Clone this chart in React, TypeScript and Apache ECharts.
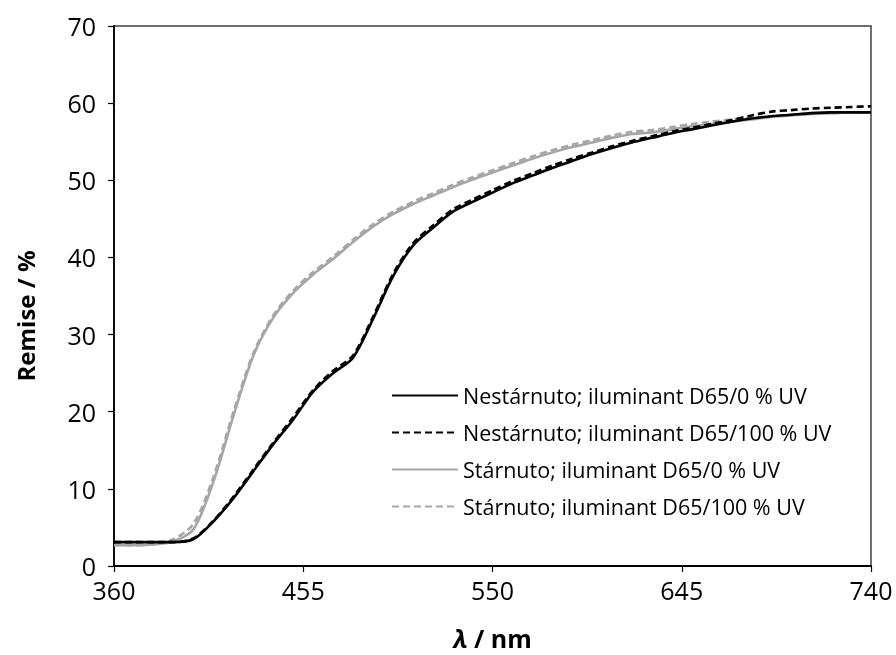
import React, { useEffect, useRef } from "react";
import * as echarts from "echarts";

const wavelengths = [360, 370, 380, 390, 400, 410, 420, 430, 440, 450, 460, 470, 480, 490, 500, 510, 520, 530, 540, 550, 560, 570, 580, 590, 600, 610, 620, 630, 640, 650, 660, 670, 680, 690, 700, 710, 720, 730, 740];

const nestarnuto0 = [3.1, 3.1, 3.1, 3.1, 3.5, 5.8, 8.8, 12.3, 15.8, 19.0, 22.6, 25.0, 27.0, 32.0, 37.5, 41.5, 43.8, 45.9, 47.2, 48.4, 49.6, 50.6, 51.6, 52.5, 53.4, 54.2, 54.9, 55.5, 56.1, 56.6, 57.1, 57.6, 58.0, 58.3, 58.5, 58.7, 58.8, 58.8, 58.8];
const nestarnuto100 = [3.1, 3.1, 3.1, 3.1, 3.6, 5.9, 9.0, 12.5, 16.0, 19.3, 22.8, 25.3, 27.3, 32.3, 37.8, 41.8, 44.1, 46.2, 47.5, 48.7, 49.9, 50.9, 51.9, 52.8, 53.6, 54.4, 55.1, 55.7, 56.3, 56.8, 57.3, 57.8, 58.4, 58.9, 59.1, 59.3, 59.4, 59.5, 59.6];
const starnuto0 = [2.7, 2.7, 2.8, 3.2, 4.8, 11.0, 19.5, 27.3, 32.2, 35.4, 37.8, 39.8, 42.0, 44.0, 45.6, 46.9, 48.0, 49.1, 50.1, 51.0, 51.9, 52.8, 53.6, 54.3, 54.9, 55.5, 56.0, 56.2, 56.6, 57.0, 57.3, 57.6, 57.9, 58.2, 58.4, 58.6, 58.7, 58.8, 58.8];
const starnuto100 = [2.7, 2.7, 2.8, 3.5, 5.5, 11.6, 20.0, 27.6, 32.5, 35.7, 38.1, 40.1, 42.3, 44.3, 45.9, 47.2, 48.3, 49.4, 50.4, 51.3, 52.2, 53.1, 53.9, 54.6, 55.2, 55.8, 56.3, 56.5, 56.9, 57.3, 57.6, 57.9, 58.1, 58.3, 58.5, 58.6, 58.7, 58.8, 58.8];

const seriesNames = [
  "Nestárnuto; iluminant D65/0 % UV",
  "Nestárnuto; iluminant D65/100 % UV",
  "Stárnuto; iluminant D65/0 % UV",
  "Stárnuto; iluminant D65/100 % UV",
];

const FONT = "'Open Sans', sans-serif";

export default function App() {
  const ref = useRef<HTMLDivElement>(null);
  useEffect(() => {
    if (!ref.current) return;
    const chart = echarts.init(ref.current, undefined, { renderer: "svg" });
    const pair = (vals: number[]) => wavelengths.map((w, i) => [w, vals[i]]);
    const mk = (name: string, vals: number[], color: string, dashed: boolean, z: number) => ({
      name,
      type: "line",
      data: pair(vals),
      symbol: "none",
      smooth: 0.3,
      z,
      lineStyle: { color, width: 2.6, type: dashed ? [7, 4] : "solid" },
      itemStyle: { color },
    });
    chart.setOption({
      animation: false,
      textStyle: { fontFamily: FONT },
      grid: {
        left: 114,
        right: 25,
        top: 26,
        bottom: 89,
        show: true,
        borderColor: "#404040",
        borderWidth: 1.5,
      },
      legend: {
        orient: "vertical",
        left: 386,
        top: 378,
        itemWidth: 66,
        itemHeight: 14,
        itemGap: 12,
        itemStyle: { opacity: 0 },
        data: seriesNames,
        textStyle: { fontFamily: FONT, fontSize: 21.5, color: "#000", lineHeight: 25 },
      },
      xAxis: {
        type: "value",
        min: 360,
        max: 740,
        interval: 95,
        splitLine: { show: false },
        axisLine: { lineStyle: { color: "#000", width: 1.8 } },
        axisTick: { inside: false, length: 6, lineStyle: { color: "#000", width: 1.2 } },
        axisLabel: { fontFamily: FONT, fontSize: 25, color: "#000", margin: 11 },
        name: "{i|λ} / nm",
        nameLocation: "middle",
        nameGap: 59,
        nameTextStyle: {
          fontFamily: FONT,
          fontSize: 25,
          fontWeight: "bold",
          color: "#000",
          rich: { i: { fontFamily: FONT, fontSize: 25, fontWeight: "bold", fontStyle: "italic", color: "#000" } },
        },
      },
      yAxis: {
        type: "value",
        min: 0,
        max: 70,
        interval: 10,
        splitLine: { show: false },
        axisLine: { show: true, lineStyle: { color: "#000", width: 1.8 } },
        axisTick: { show: true, inside: false, length: 6, lineStyle: { color: "#000", width: 1.2 } },
        axisLabel: { fontFamily: FONT, fontSize: 25, color: "#000", margin: 18 },
      },
      graphic: [
        {
          type: "text",
          x: 25,
          y: 316,
          rotation: Math.PI / 2,
          style: {
            text: "Remise / %",
            fontFamily: FONT,
            fontSize: 24,
            fontWeight: "bold",
            fill: "#000",
            align: "center",
            verticalAlign: "middle",
          },
        },
      ],
      series: [
        mk(seriesNames[0], nestarnuto0, "#000000", false, 3),
        mk(seriesNames[1], nestarnuto100, "#000000", true, 4),
        mk(seriesNames[2], starnuto0, "#a6a6a6", false, 1),
        mk(seriesNames[3], starnuto100, "#a6a6a6", true, 2),
      ],
    });
    return () => chart.dispose();
  }, []);
  return <div ref={ref} style={{ position: "fixed", left: 0, top: 0, width: 896, height: 655 }} />;
}
